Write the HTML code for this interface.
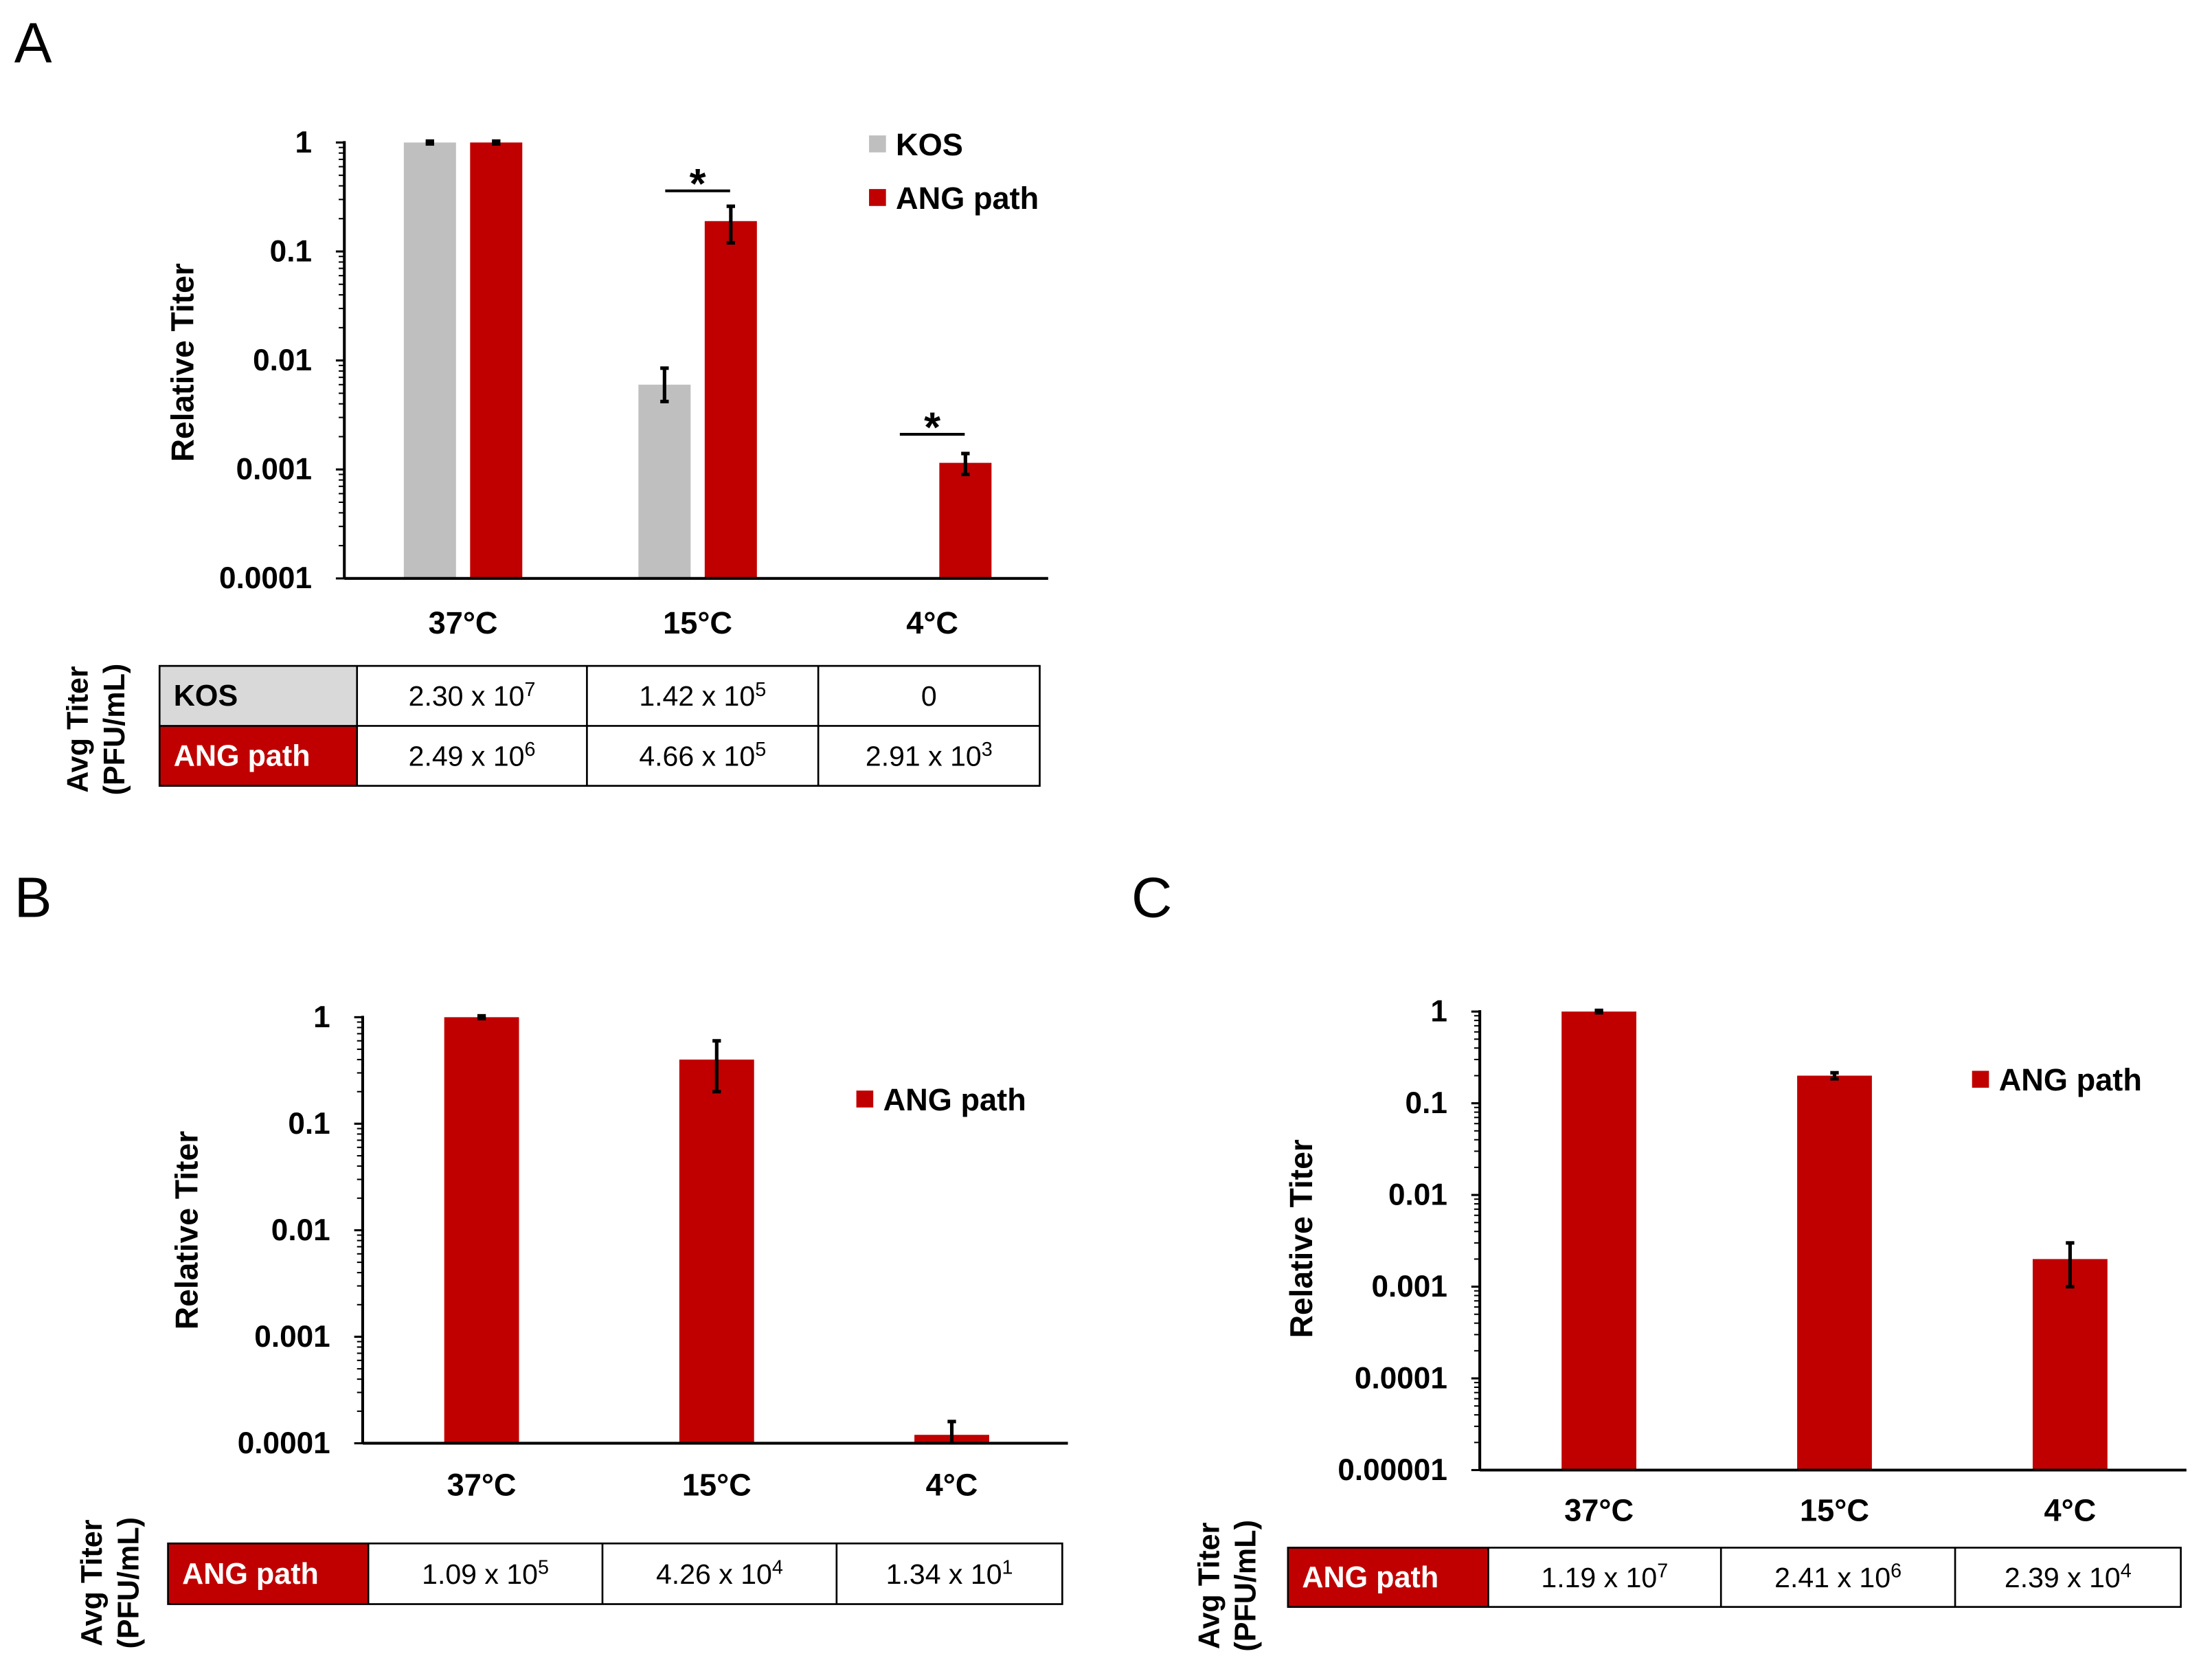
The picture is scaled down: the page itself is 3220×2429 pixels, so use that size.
<!DOCTYPE html>
<html><head><meta charset="utf-8">
<style>
html,body{margin:0;padding:0;background:#fff;}
svg{display:block;}
text{font-family:"Liberation Sans",Arial,sans-serif;}
</style></head>
<body>
<svg id="fig" width="3220" height="2429" viewBox="0 0 1568 1183" xmlns="http://www.w3.org/2000/svg">
<rect width="1568" height="1183" fill="#fff"/>
<g id="root"></g>
</svg>
<script>
// ---- Panel A data ----
const aCategories = ["37°C", "15°C", "4°C"];
const aKosValues = [1, 0.006, null];
const aKosErrLow = [0.97, 0.0042, null];
const aKosErrHigh = [1.03, 0.0085, null];
const aAngValues = [1, 0.19, 0.00115];
const aAngErrLow = [0.97, 0.12, 0.0009];
const aAngErrHigh = [1.03, 0.26, 0.0014];
const aTickLabels = ["1", "0.1", "0.01", "0.001", "0.0001"];
const aTableKos = [["2.30 x 10","7"], ["1.42 x 10","5"], ["0",""]];
const aTableAng = [["2.49 x 10","6"], ["4.66 x 10","5"], ["2.91 x 10","3"]];
// ---- Panel B data ----
const bCategories = ["37°C", "15°C", "4°C"];
const bAngValues = [1, 0.4, 0.00012];
const bAngErrLow = [0.97, 0.2, 0.0001];
const bAngErrHigh = [1.03, 0.6, 0.00016];
const bTickLabels = ["1", "0.1", "0.01", "0.001", "0.0001"];
const bTableAng = [["1.09 x 10","5"], ["4.26 x 10","4"], ["1.34 x 10","1"]];
// ---- Panel C data ----
const cCategories = ["37°C", "15°C", "4°C"];
const cAngValues = [1, 0.2, 0.002];
const cAngErrLow = [0.97, 0.185, 0.001];
const cAngErrHigh = [1.03, 0.215, 0.003];
const cTickLabels = ["1", "0.1", "0.01", "0.001", "0.0001", "0.00001"];
const cTableAng = [["1.19 x 10","7"], ["2.41 x 10","6"], ["2.39 x 10","4"]];

const NS = "http://www.w3.org/2000/svg";
const root = document.getElementById('root');
const RED = "#c00000", GRAY = "#bfbfbf";
function mk(tag, attrs, parent) {
  const e = document.createElementNS(NS, tag);
  for (const k in attrs) e.setAttribute(k, attrs[k]);
  (parent || root).appendChild(e);
  return e;
}
function txt(s, attrs, parent) { const t = mk('text', attrs, parent); t.textContent = s; return t; }

function panel(cfg) {
  const g = mk('g', {});
  
  
  const lbl = txt(cfg.letter, {x: cfg.letterX, y: cfg.letterY, 'font-size': 40}, g);
  
  
  const decades = cfg.ticks.length - 1;
  const minExp = -decades;
  const y = v => cfg.yBottom - (Math.log10(v) - minExp) / decades * (cfg.yBottom - cfg.yTop);
  const band = (cfg.xEnd - cfg.axisX) / cfg.categories.length;
  const cx = i => cfg.axisX + band * (i + 0.5) + cfg.shift;
  for (let e = 0; e <= decades; e++) {
    const v = Math.pow(10, -e);
    const t = mk('line', {x1: cfg.axisX - 6, x2: cfg.axisX, y1: y(v), y2: y(v), stroke: '#000', 'stroke-width': 1.5}, g);
    
    
    const tl = txt(cfg.ticks[e], {x: cfg.axisX - 23, y: y(v) + 7, 'font-size': 21.5, 'font-weight': 'bold', 'text-anchor': 'end'}, g);
    
    
    if (e < decades) for (let k = 2; k <= 9; k++) {
      const vv = v / 10 * k;
      const m = mk('line', {x1: cfg.axisX - 4, x2: cfg.axisX, y1: y(vv), y2: y(vv), stroke: '#000', 'stroke-width': 1}, g);
      
      
    }
  }
  cfg.series.forEach(s => {
    s.values.forEach((v, i) => {
      if (v == null) return;
      const x0 = cx(i) + s.offset - cfg.barW / 2;
      const b = mk('rect', {x: x0, y: y(v), width: cfg.barW, height: cfg.yBottom - y(v), fill: s.color}, g);
      
      
      const ex = cx(i) + s.offset;
      const eg = mk('g', {stroke: '#000', 'stroke-width': 2.5}, g);
      
      
      const yl = Math.min(y(s.lo[i]), cfg.yBottom), yh = y(s.hi[i]);
      mk('line', {x1: ex, x2: ex, y1: yh, y2: yl}, eg);
      mk('line', {x1: ex - 3, x2: ex + 3, y1: yh, y2: yh}, eg);
      if (yl < cfg.yBottom) mk('line', {x1: ex - 3, x2: ex + 3, y1: yl, y2: yl}, eg);
    });
  });
  const ya = mk('line', {x1: cfg.axisX, x2: cfg.axisX, y1: cfg.yTop - 1, y2: cfg.yBottom, stroke: '#000', 'stroke-width': 2}, g);
  
  
  const xa = mk('line', {x1: cfg.axisX, x2: cfg.xEnd, y1: cfg.yBottom, y2: cfg.yBottom, stroke: '#000', 'stroke-width': 2}, g);
  
  
  cfg.categories.forEach((c, i) => {
    const t = txt(c, {x: cx(i), y: cfg.xLabelY, 'font-size': 22, 'font-weight': 'bold', 'text-anchor': 'middle'}, g);
    
    
  });
  const yt = txt('Relative Titer', {x: 0, y: 0, 'font-size': 22.5, 'font-weight': 'bold', 'text-anchor': 'middle', transform: `translate(${cfg.yTitleX},${cfg.yTitleY}) rotate(-90)`}, g);
  
  
  cfg.series.forEach((s, k) => {
    const lg = mk('g', {}, g);
    
    
    const ly = cfg.legendY + k * 38;
    mk('rect', {x: cfg.legendX, y: ly - 6, width: 12, height: 12, fill: s.color}, lg);
    txt(s.label, {x: cfg.legendX + 19, y: ly + 8, 'font-size': 22, 'font-weight': 'bold'}, lg);
  });
  (cfg.sig || []).forEach(sg => {
    const sgG = mk('g', {}, g);
    
    
    const i = sg.cat;
    const ly = y(sg.level);
    mk('line', {x1: cx(i) - 23, x2: cx(i) + 23, y1: ly, y2: ly, stroke: '#000', 'stroke-width': 2}, sgG);
    txt('*', {x: cx(i), y: ly + 5, 'font-size': 30, 'font-weight': 'bold', 'text-anchor': 'middle'}, sgG);
  });
  const tb = mk('g', {}, g);
  
  
  const rowH = (cfg.tBottom - cfg.tTop) / cfg.rows.length;
  cfg.rows.forEach((r, ri) => {
    const ry = cfg.tTop + ri * rowH;
    mk('rect', {x: cfg.tLeft, y: ry, width: cfg.tCols[0] - cfg.tLeft, height: rowH, fill: r.bg}, tb);
    const h = txt(r.label, {x: cfg.tLeft + 10, y: ry + rowH / 2 + 7, 'font-size': 21, 'font-weight': 'bold', fill: r.fg}, tb);
    
    
    r.cells.forEach((c, ci) => {
      const xl = cfg.tCols[ci], xr = ci + 1 < cfg.tCols.length ? cfg.tCols[ci + 1] : cfg.tRight;
      const t = txt('', {x: (xl + xr) / 2, y: ry + rowH / 2 + 7, 'font-size': 20, 'text-anchor': 'middle'}, tb);
      
      
      const a = document.createElementNS(NS, 'tspan'); a.textContent = c[0]; t.appendChild(a);
      if (c[1]) { const s = document.createElementNS(NS, 'tspan'); s.setAttribute('dy', -7); s.setAttribute('font-size', 14); s.textContent = c[1]; t.appendChild(s); }
    });
  });
  mk('rect', {x: cfg.tLeft, y: cfg.tTop, width: cfg.tRight - cfg.tLeft, height: cfg.tBottom - cfg.tTop, fill: 'none', stroke: '#000', 'stroke-width': 1.3}, tb);
  for (let ri = 1; ri < cfg.rows.length; ri++) mk('line', {x1: cfg.tLeft, x2: cfg.tRight, y1: cfg.tTop + ri * rowH, y2: cfg.tTop + ri * rowH, stroke: '#000', 'stroke-width': 1.3}, tb);
  cfg.tCols.forEach(x => mk('line', {x1: x, x2: x, y1: cfg.tTop, y2: cfg.tBottom, stroke: '#000', 'stroke-width': 1.3}, tb));
  const at = txt('', {x: 0, y: 0, 'font-size': 21, 'font-weight': 'bold', 'text-anchor': 'middle', transform: `translate(${cfg.avgX},${cfg.avgY}) rotate(-90)`}, g);
  
  
  const t1 = document.createElementNS(NS, 'tspan'); t1.setAttribute('x', 0); t1.textContent = 'Avg Titer'; at.appendChild(t1);
  const t2 = document.createElementNS(NS, 'tspan'); t2.setAttribute('x', 0); t2.setAttribute('dy', 26); t2.textContent = '(PFU/mL)'; at.appendChild(t2);
}

panel({name: 'panel-a', letter: 'A', letterX: 10, letterY: 44, axisX: 244, xEnd: 743, shift: 1, yTop: 101, yBottom: 410,
  ticks: aTickLabels, categories: aCategories, barW: 37, xLabelY: 449, yTitleX: 137, yTitleY: 257,
  series: [
    {key: 'kos', label: 'KOS', color: GRAY, offset: -23.5, values: aKosValues, lo: aKosErrLow, hi: aKosErrHigh},
    {key: 'ang', label: 'ANG path', color: RED, offset: 23.5, values: aAngValues, lo: aAngErrLow, hi: aAngErrHigh}],
  legendX: 616, legendY: 102,
  sig: [{cat: 1, level: 0.36}, {cat: 2, level: 0.0021}],
  tLeft: 113, tRight: 737, tTop: 472, tBottom: 557, tCols: [253, 416, 580],
  rows: [{label: 'KOS', bg: '#d9d9d9', fg: '#000', cells: aTableKos}, {label: 'ANG path', bg: RED, fg: '#fff', cells: aTableAng}],
  avgX: 62, avgY: 517});

panel({name: 'panel-b', letter: 'B', letterX: 10, letterY: 650, axisX: 257, xEnd: 757, shift: 1, yTop: 721, yBottom: 1023,
  ticks: bTickLabels, categories: bCategories, barW: 53, xLabelY: 1060, yTitleX: 140, yTitleY: 872,
  series: [{key: 'ang', label: 'ANG path', color: RED, offset: 0, values: bAngValues, lo: bAngErrLow, hi: bAngErrHigh}],
  legendX: 607, legendY: 779,
  tLeft: 119, tRight: 753, tTop: 1094, tBottom: 1137, tCols: [261, 427, 593],
  rows: [{label: 'ANG path', bg: RED, fg: '#fff', cells: bTableAng}],
  avgX: 72, avgY: 1122});

panel({name: 'panel-c', letter: 'C', letterX: 802, letterY: 650, axisX: 1049, xEnd: 1550, shift: 1, yTop: 717, yBottom: 1042,
  ticks: cTickLabels, categories: cCategories, barW: 53, xLabelY: 1078, yTitleX: 930, yTitleY: 878,
  series: [{key: 'ang', label: 'ANG path', color: RED, offset: 0, values: cAngValues, lo: cAngErrLow, hi: cAngErrHigh}],
  legendX: 1398, legendY: 765,
  tLeft: 913, tRight: 1546, tTop: 1097, tBottom: 1139, tCols: [1055, 1220, 1386],
  rows: [{label: 'ANG path', bg: RED, fg: '#fff', cells: cTableAng}],
  avgX: 864, avgY: 1124});
</script>
</body></html>
